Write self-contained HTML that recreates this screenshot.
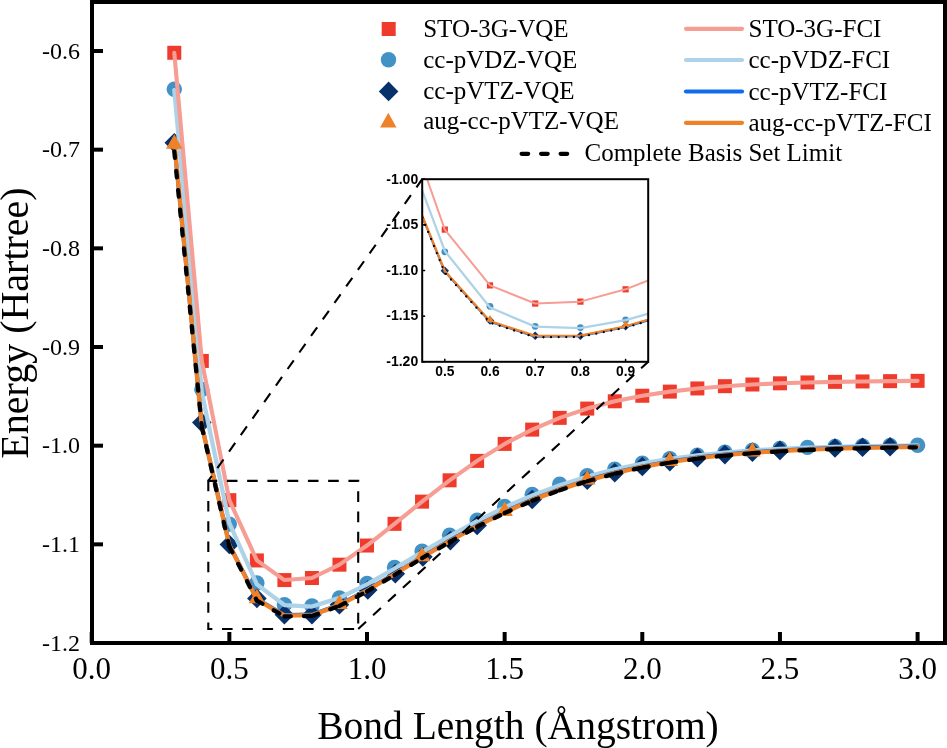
<!DOCTYPE html><html><head><meta charset="utf-8"><style>html,body{margin:0;padding:0;background:#fff;width:947px;height:748px;overflow:hidden}svg{display:block;will-change:transform}</style></head><body>
<svg width="947" height="748" viewBox="0 0 947 748">
<rect x="0" y="0" width="947" height="748" fill="#fff"/>
<defs><clipPath id="cm"><rect x="92" y="2" width="853" height="641"/></clipPath><clipPath id="ci"><rect x="422.2" y="179.2" width="226" height="182.6"/></clipPath></defs>
<g clip-path="url(#cm)">
<rect x="167.29" y="45.78" width="14" height="14" fill="#ef3b2c"/>
<rect x="194.82" y="353.92" width="14" height="14" fill="#ef3b2c"/>
<rect x="222.35" y="493.15" width="14" height="14" fill="#ef3b2c"/>
<rect x="249.88" y="553.43" width="14" height="14" fill="#ef3b2c"/>
<rect x="277.41" y="573.07" width="14" height="14" fill="#ef3b2c"/>
<rect x="304.94" y="571.00" width="14" height="14" fill="#ef3b2c"/>
<rect x="332.47" y="557.68" width="14" height="14" fill="#ef3b2c"/>
<rect x="360.00" y="538.53" width="14" height="14" fill="#ef3b2c"/>
<rect x="387.53" y="516.83" width="14" height="14" fill="#ef3b2c"/>
<rect x="415.06" y="494.63" width="14" height="14" fill="#ef3b2c"/>
<rect x="442.59" y="473.31" width="14" height="14" fill="#ef3b2c"/>
<rect x="470.12" y="453.88" width="14" height="14" fill="#ef3b2c"/>
<rect x="497.65" y="436.90" width="14" height="14" fill="#ef3b2c"/>
<rect x="525.18" y="422.60" width="14" height="14" fill="#ef3b2c"/>
<rect x="552.71" y="410.86" width="14" height="14" fill="#ef3b2c"/>
<rect x="580.24" y="401.58" width="14" height="14" fill="#ef3b2c"/>
<rect x="607.77" y="394.28" width="14" height="14" fill="#ef3b2c"/>
<rect x="635.30" y="388.75" width="14" height="14" fill="#ef3b2c"/>
<rect x="662.83" y="384.61" width="14" height="14" fill="#ef3b2c"/>
<rect x="690.36" y="381.45" width="14" height="14" fill="#ef3b2c"/>
<rect x="717.89" y="379.18" width="14" height="14" fill="#ef3b2c"/>
<rect x="745.42" y="377.50" width="14" height="14" fill="#ef3b2c"/>
<rect x="772.95" y="376.32" width="14" height="14" fill="#ef3b2c"/>
<rect x="800.48" y="375.43" width="14" height="14" fill="#ef3b2c"/>
<rect x="828.01" y="374.84" width="14" height="14" fill="#ef3b2c"/>
<rect x="855.54" y="374.45" width="14" height="14" fill="#ef3b2c"/>
<rect x="883.07" y="374.15" width="14" height="14" fill="#ef3b2c"/>
<rect x="910.60" y="373.85" width="14" height="14" fill="#ef3b2c"/>
<circle cx="174.29" cy="89.19" r="7.7" fill="#4292c6"/>
<circle cx="201.82" cy="389.54" r="7.7" fill="#4292c6"/>
<circle cx="229.35" cy="524.12" r="7.7" fill="#4292c6"/>
<circle cx="256.88" cy="583.03" r="7.7" fill="#4292c6"/>
<circle cx="284.41" cy="604.64" r="7.7" fill="#4292c6"/>
<circle cx="311.94" cy="606.02" r="7.7" fill="#4292c6"/>
<circle cx="339.47" cy="597.83" r="7.7" fill="#4292c6"/>
<circle cx="367.00" cy="583.36" r="7.7" fill="#4292c6"/>
<circle cx="394.53" cy="567.52" r="7.7" fill="#4292c6"/>
<circle cx="422.06" cy="551.12" r="7.7" fill="#4292c6"/>
<circle cx="449.59" cy="535.15" r="7.7" fill="#4292c6"/>
<circle cx="477.12" cy="520.08" r="7.7" fill="#4292c6"/>
<circle cx="504.65" cy="506.41" r="7.7" fill="#4292c6"/>
<circle cx="532.18" cy="494.49" r="7.7" fill="#4292c6"/>
<circle cx="559.71" cy="484.30" r="7.7" fill="#4292c6"/>
<circle cx="587.24" cy="475.68" r="7.7" fill="#4292c6"/>
<circle cx="614.77" cy="469.16" r="7.7" fill="#4292c6"/>
<circle cx="642.30" cy="463.20" r="7.7" fill="#4292c6"/>
<circle cx="669.83" cy="458.63" r="7.7" fill="#4292c6"/>
<circle cx="697.36" cy="455.09" r="7.7" fill="#4292c6"/>
<circle cx="724.89" cy="452.31" r="7.7" fill="#4292c6"/>
<circle cx="752.42" cy="450.13" r="7.7" fill="#4292c6"/>
<circle cx="779.95" cy="448.51" r="7.7" fill="#4292c6"/>
<circle cx="807.48" cy="447.34" r="7.7" fill="#4292c6"/>
<circle cx="835.01" cy="446.52" r="7.7" fill="#4292c6"/>
<circle cx="862.54" cy="445.96" r="7.7" fill="#4292c6"/>
<circle cx="890.07" cy="445.50" r="7.7" fill="#4292c6"/>
<circle cx="917.60" cy="445.19" r="7.7" fill="#4292c6"/>
<path d="M174.29,132.96L184.09,142.76L174.29,152.56L164.49,142.76Z" fill="#08306a"/>
<path d="M201.82,412.79L211.62,422.59L201.82,432.39L192.02,422.59Z" fill="#08306a"/>
<path d="M229.35,534.75L239.15,544.55L229.35,554.35L219.55,544.55Z" fill="#08306a"/>
<path d="M256.88,588.62L266.68,598.42L256.88,608.22L247.08,598.42Z" fill="#08306a"/>
<path d="M284.41,605.00L294.21,614.80L284.41,624.60L274.61,614.80Z" fill="#08306a"/>
<path d="M311.94,605.00L321.74,614.80L311.94,624.60L302.14,614.80Z" fill="#08306a"/>
<path d="M339.47,594.84L349.27,604.64L339.47,614.44L329.67,604.64Z" fill="#08306a"/>
<path d="M367.80,580.26L377.60,590.06L367.80,599.86L358.00,590.06Z" fill="#08306a"/>
<path d="M395.33,563.84L405.13,573.64L395.33,583.44L385.53,573.64Z" fill="#08306a"/>
<path d="M422.86,547.04L432.66,556.84L422.86,566.64L413.06,556.84Z" fill="#08306a"/>
<path d="M450.39,530.78L460.19,540.58L450.39,550.38L440.59,540.58Z" fill="#08306a"/>
<path d="M477.12,515.61L486.92,525.41L477.12,535.21L467.32,525.41Z" fill="#08306a"/>
<path d="M532.18,489.63L541.98,499.43L532.18,509.23L522.38,499.43Z" fill="#08306a"/>
<path d="M587.24,470.42L597.04,480.22L587.24,490.02L577.44,480.22Z" fill="#08306a"/>
<path d="M614.77,462.91L624.57,472.71L614.77,482.51L604.97,472.71Z" fill="#08306a"/>
<path d="M642.30,456.75L652.10,466.55L642.30,476.35L632.50,466.55Z" fill="#08306a"/>
<path d="M669.83,451.79L679.63,461.59L669.83,471.39L660.03,461.59Z" fill="#08306a"/>
<path d="M697.36,447.86L707.16,457.66L697.36,467.46L687.56,457.66Z" fill="#08306a"/>
<path d="M724.89,444.78L734.69,454.58L724.89,464.38L715.09,454.58Z" fill="#08306a"/>
<path d="M752.42,442.40L762.22,452.20L752.42,462.00L742.62,452.20Z" fill="#08306a"/>
<path d="M779.95,440.59L789.75,450.39L779.95,460.19L770.15,450.39Z" fill="#08306a"/>
<path d="M835.01,438.20L844.81,448.00L835.01,457.80L825.21,448.00Z" fill="#08306a"/>
<path d="M862.54,437.44L872.34,447.24L862.54,457.04L852.74,447.24Z" fill="#08306a"/>
<path d="M890.07,436.88L899.87,446.68L890.07,456.48L880.27,446.68Z" fill="#08306a"/>
<polyline points="174.29,90.17 201.82,392.50 229.35,523.23 256.88,584.38 284.41,605.03 311.94,606.57 339.47,597.92 367.00,584.34 394.53,568.51 422.06,552.11 449.59,536.14 477.12,521.06 504.65,507.39 532.18,495.48 559.71,485.28 587.24,476.67 614.77,469.45 642.30,463.49 669.83,458.93 697.36,455.39 724.89,452.61 752.42,450.43 779.95,448.81 807.48,447.64 835.01,446.81 862.54,446.25 890.07,445.80 917.60,445.48" stroke="#aed3e8" stroke-width="4.3" fill="none" stroke-linejoin="round" stroke-linecap="round"/>
<polyline points="174.29,143.75 201.82,425.35 229.35,544.74 256.88,598.98 284.41,615.00 311.94,614.56 339.47,604.53 367.00,590.06 394.53,573.64 422.06,556.84 449.59,540.58 477.12,525.50 504.65,511.73 532.18,499.53 559.71,489.03 587.24,480.03 614.77,472.51 642.30,466.35 669.83,461.49 697.36,457.56 724.89,454.48 752.42,452.11 779.95,450.39 807.48,449.02 835.01,448.00 862.54,447.24 890.07,446.68 917.60,446.27" stroke="#106cec" stroke-width="4.0" fill="none" stroke-linejoin="round" stroke-linecap="round"/>
<polyline points="174.29,52.78 201.82,360.92 229.35,500.15 256.88,560.43 284.41,580.07 311.94,578.00 339.47,564.68 367.00,545.53 394.53,523.83 422.06,501.63 449.59,480.31 477.12,460.88 504.65,443.90 532.18,429.60 559.71,417.86 587.24,408.58 614.77,401.28 642.30,395.75 669.83,391.61 697.36,388.45 724.89,386.18 752.42,384.50 779.95,383.32 807.48,382.43 835.01,381.84 862.54,381.45 890.07,381.15 917.60,380.85" stroke="#f69d94" stroke-width="4.1" fill="none" stroke-linejoin="round" stroke-linecap="round"/>
<path d="M174.29,134.13L182.54,148.63L166.04,148.63Z" fill="#ef8229"/>
<path d="M256.88,588.87L265.13,603.37L248.63,603.37Z" fill="#ef8229"/>
<path d="M339.47,594.42L347.72,608.92L331.22,608.92Z" fill="#ef8229"/>
<path d="M422.06,546.73L430.31,561.23L413.81,561.23Z" fill="#ef8229"/>
<path d="M504.65,501.62L512.90,516.12L496.40,516.12Z" fill="#ef8229"/>
<path d="M587.24,469.91L595.49,484.41L578.99,484.41Z" fill="#ef8229"/>
<path d="M669.83,451.38L678.08,465.88L661.58,465.88Z" fill="#ef8229"/>
<path d="M752.42,441.99L760.67,456.49L744.17,456.49Z" fill="#ef8229"/>
<polyline points="174.29,142.37 201.82,425.95 229.35,545.34 256.88,599.58 284.41,615.59 311.94,615.15 339.47,605.12 367.00,590.66 394.53,574.23 422.06,557.43 449.59,541.17 477.12,526.10 504.65,512.33 532.18,500.12 559.71,489.62 587.24,480.62 614.77,473.10 642.30,466.94 669.83,462.08 697.36,458.15 724.89,455.08 752.42,452.70 779.95,450.98 807.48,449.61 835.01,448.59 862.54,447.83 890.07,447.28 917.60,446.87" stroke="#ef8228" stroke-width="4.3" fill="none" stroke-linejoin="round" stroke-linecap="round"/>
<path d="M174.29,151.45L201.82,426.93" stroke="#000" stroke-width="4.3" stroke-dasharray="6.4 13.1" fill="none" stroke-linejoin="round" stroke-linecap="round"/>
<path d="M201.82,426.93L229.35,546.52" stroke="#000" stroke-width="4.3" stroke-dasharray="6.4 13.1" fill="none" stroke-linejoin="round" stroke-linecap="round"/>
<path d="M229.35,546.52L256.88,600.56" stroke="#000" stroke-width="4.3" stroke-dasharray="6.4 13.1" fill="none" stroke-linejoin="round" stroke-linecap="round"/>
<path d="M256.88,600.56L284.41,616.38" stroke="#000" stroke-width="4.3" stroke-dasharray="6.4 13.1" fill="none" stroke-linejoin="round" stroke-linecap="round"/>
<path d="M284.41,616.38L311.94,615.94" stroke="#000" stroke-width="4.3" stroke-dasharray="6.4 13.1" fill="none" stroke-linejoin="round" stroke-linecap="round"/>
<path d="M311.94,615.94L339.47,605.91" stroke="#000" stroke-width="4.3" stroke-dasharray="6.4 13.1" fill="none" stroke-linejoin="round" stroke-linecap="round"/>
<path d="M339.47,605.91L367.00,591.45" stroke="#000" stroke-width="4.3" stroke-dasharray="6.4 13.1" fill="none" stroke-linejoin="round" stroke-linecap="round"/>
<path d="M367.00,591.45L394.53,575.02" stroke="#000" stroke-width="4.3" stroke-dasharray="6.4 13.1" fill="none" stroke-linejoin="round" stroke-linecap="round"/>
<path d="M394.53,575.02L422.06,558.22" stroke="#000" stroke-width="4.3" stroke-dasharray="6.4 13.1" fill="none" stroke-linejoin="round" stroke-linecap="round"/>
<path d="M422.06,558.22L449.59,541.96" stroke="#000" stroke-width="4.3" stroke-dasharray="6.4 13.1" fill="none" stroke-linejoin="round" stroke-linecap="round"/>
<path d="M449.59,541.96L477.12,526.79" stroke="#000" stroke-width="4.3" stroke-dasharray="6.4 13.1" fill="none" stroke-linejoin="round" stroke-linecap="round"/>
<path d="M477.12,526.79L504.65,513.02" stroke="#000" stroke-width="4.3" stroke-dasharray="6.4 13.1" fill="none" stroke-linejoin="round" stroke-linecap="round"/>
<path d="M504.65,513.02L532.18,500.81" stroke="#000" stroke-width="4.3" stroke-dasharray="6.4 13.1" fill="none" stroke-linejoin="round" stroke-linecap="round"/>
<path d="M532.18,500.81L559.71,490.22" stroke="#000" stroke-width="4.3" stroke-dasharray="6.4 13.1" fill="none" stroke-linejoin="round" stroke-linecap="round"/>
<path d="M559.71,490.22L587.24,481.21" stroke="#000" stroke-width="4.3" stroke-dasharray="6.4 13.1" fill="none" stroke-linejoin="round" stroke-linecap="round"/>
<path d="M587.24,481.21L614.77,473.69" stroke="#000" stroke-width="4.3" stroke-dasharray="6.4 13.1" fill="none" stroke-linejoin="round" stroke-linecap="round"/>
<path d="M614.77,473.69L642.30,467.54" stroke="#000" stroke-width="4.3" stroke-dasharray="6.4 13.1" fill="none" stroke-linejoin="round" stroke-linecap="round"/>
<path d="M642.30,467.54L669.83,462.58" stroke="#000" stroke-width="4.3" stroke-dasharray="6.4 13.1" fill="none" stroke-linejoin="round" stroke-linecap="round"/>
<path d="M669.83,462.58L697.36,458.64" stroke="#000" stroke-width="4.3" stroke-dasharray="6.4 13.1" fill="none" stroke-linejoin="round" stroke-linecap="round"/>
<path d="M697.36,458.64L724.89,455.57" stroke="#000" stroke-width="4.3" stroke-dasharray="6.4 13.1" fill="none" stroke-linejoin="round" stroke-linecap="round"/>
<path d="M724.89,455.57L752.42,453.19" stroke="#000" stroke-width="4.3" stroke-dasharray="6.4 13.1" fill="none" stroke-linejoin="round" stroke-linecap="round"/>
<path d="M752.42,453.19L779.95,451.37" stroke="#000" stroke-width="4.3" stroke-dasharray="6.4 13.1" fill="none" stroke-linejoin="round" stroke-linecap="round"/>
<path d="M779.95,451.37L807.48,450.00" stroke="#000" stroke-width="4.3" stroke-dasharray="6.4 13.1" fill="none" stroke-linejoin="round" stroke-linecap="round"/>
<path d="M807.48,450.00L835.01,448.98" stroke="#000" stroke-width="4.3" stroke-dasharray="6.4 13.1" fill="none" stroke-linejoin="round" stroke-linecap="round"/>
<path d="M835.01,448.98L862.54,448.23" stroke="#000" stroke-width="4.3" stroke-dasharray="6.4 13.1" fill="none" stroke-linejoin="round" stroke-linecap="round"/>
<path d="M862.54,448.23L890.07,447.67" stroke="#000" stroke-width="4.3" stroke-dasharray="6.4 13.1" fill="none" stroke-linejoin="round" stroke-linecap="round"/>
<path d="M890.07,447.67L917.60,447.26" stroke="#000" stroke-width="4.3" stroke-dasharray="6.4 13.1" fill="none" stroke-linejoin="round" stroke-linecap="round"/>
</g>
<rect x="208.3" y="480.9" width="149.9" height="148.1" fill="none" stroke="#000" stroke-width="2.1" stroke-dasharray="10.6 9.65" stroke-dashoffset="1.65"/>
<path d="M208.3,480.9L422.2,179.2" stroke="#000" stroke-width="2.1" stroke-dasharray="10.6 9.65" stroke-dashoffset="4.6" fill="none"/>
<path d="M358.2,629L648.2,361.8" stroke="#000" stroke-width="2.1" stroke-dasharray="10.6 9.65" stroke-dashoffset="0" fill="none"/>
<rect x="422.2" y="179.2" width="226" height="182.6" fill="#fff"/>
<g clip-path="url(#ci)">
<rect x="441.70" y="226.50" width="6.2" height="6.2" fill="#ef3b2c"/>
<circle cx="444.80" cy="251.78" r="3.4" fill="#4292c6"/>
<path d="M444.80,266.48L449.00,270.68L444.80,274.88L440.60,270.68Z" fill="#08306a"/>
<rect x="486.90" y="282.28" width="6.2" height="6.2" fill="#ef3b2c"/>
<circle cx="490.00" cy="306.29" r="3.4" fill="#4292c6"/>
<path d="M490.00,316.33L494.20,320.53L490.00,324.73L485.80,320.53Z" fill="#08306a"/>
<rect x="532.10" y="300.45" width="6.2" height="6.2" fill="#ef3b2c"/>
<circle cx="535.20" cy="326.28" r="3.4" fill="#4292c6"/>
<path d="M535.20,331.49L539.40,335.69L535.20,339.89L531.00,335.69Z" fill="#08306a"/>
<rect x="577.30" y="298.53" width="6.2" height="6.2" fill="#ef3b2c"/>
<circle cx="580.40" cy="327.56" r="3.4" fill="#4292c6"/>
<path d="M580.40,331.49L584.60,335.69L580.40,339.89L576.20,335.69Z" fill="#08306a"/>
<rect x="622.50" y="286.21" width="6.2" height="6.2" fill="#ef3b2c"/>
<circle cx="625.60" cy="319.98" r="3.4" fill="#4292c6"/>
<path d="M625.60,322.08L629.80,326.28L625.60,330.48L621.40,326.28Z" fill="#08306a"/>
<polyline points="354.40,-184.36 399.60,100.77 444.80,229.60 490.00,285.38 535.20,303.55 580.40,301.63 625.60,289.31 670.80,271.60 716.00,251.51 761.20,230.97 806.40,211.25 851.60,193.26 896.80,177.56 942.00,164.32 987.20,153.45 1032.40,144.87 1077.60,138.11 1122.80,133.00 1168.00,129.17 1213.20,126.25 1258.40,124.15 1303.60,122.59 1348.80,121.50 1394.00,120.68 1439.20,120.13 1484.40,119.76 1529.60,119.49 1574.80,119.22" stroke="#f69d94" stroke-width="2.0" fill="none" stroke-linejoin="round" stroke-linecap="round"/>
<polyline points="354.40,-149.75 399.60,129.99 444.80,250.96 490.00,307.54 535.20,326.65 580.40,328.07 625.60,320.07 670.80,307.50 716.00,292.85 761.20,277.68 806.40,262.90 851.60,248.95 896.80,236.30 942.00,225.28 987.20,215.85 1032.40,207.88 1077.60,201.20 1122.80,195.68 1168.00,191.46 1213.20,188.18 1258.40,185.61 1303.60,183.59 1348.80,182.09 1394.00,181.01 1439.20,180.25 1484.40,179.73 1529.60,179.31 1574.80,179.02" stroke="#aed3e8" stroke-width="2.3" fill="none" stroke-linejoin="round" stroke-linecap="round"/>
<polyline points="354.40,-99.45 399.60,161.12 444.80,271.60 490.00,321.78 535.20,336.60 580.40,336.20 625.60,326.91 670.80,313.53 716.00,298.33 761.20,282.79 806.40,267.74 851.60,253.79 896.80,241.05 942.00,229.76 987.20,220.05 1032.40,211.71 1077.60,204.76 1122.80,199.06 1168.00,194.56 1213.20,190.92 1258.40,188.08 1303.60,185.88 1348.80,184.29 1394.00,183.02 1439.20,182.07 1484.40,181.37 1529.60,180.86 1574.80,180.48" stroke="#106cec" stroke-width="2.2" fill="none" stroke-linejoin="round" stroke-linecap="round"/>
<path d="M490.00,315.11L493.70,321.71L486.30,321.71Z" fill="#ef8229"/>
<path d="M625.60,320.24L629.30,326.84L621.90,326.84Z" fill="#ef8229"/>
<polyline points="354.40,-101.91 399.60,160.48 444.80,270.96 490.00,321.15 535.20,335.96 580.40,335.56 625.60,326.27 670.80,312.89 716.00,297.69 761.20,282.15 806.40,267.10 851.60,253.15 896.80,240.41 942.00,229.12 987.20,219.41 1032.40,211.07 1077.60,204.12 1122.80,198.42 1168.00,193.92 1213.20,190.28 1258.40,187.44 1303.60,185.24 1348.80,183.65 1394.00,182.38 1439.20,181.43 1484.40,180.74 1529.60,180.22 1574.80,179.84" stroke="#ef8228" stroke-width="2.3" fill="none" stroke-linejoin="round" stroke-linecap="round"/>
<polyline points="354.40,-92.87 399.60,162.04 444.80,272.69 490.00,322.70 535.20,337.33 580.40,336.93 625.60,327.64 670.80,314.26 716.00,299.06 761.20,283.52 806.40,268.47 851.60,254.43 896.80,241.69 942.00,230.39 987.20,220.59 1032.40,212.26 1077.60,205.30 1122.80,199.61 1168.00,195.02 1213.20,191.38 1258.40,188.53 1303.60,186.33 1348.80,184.65 1394.00,183.38 1439.20,182.44 1484.40,181.74 1529.60,181.22 1574.80,180.84" stroke="#000" stroke-width="2.3" stroke-dasharray="0 7.6" fill="none" stroke-linejoin="round" stroke-linecap="round"/>
</g>
<rect x="422.2" y="179.2" width="226" height="182.6" fill="none" stroke="#000" stroke-width="2"/>
<line x1="444.80" y1="361.8" x2="444.80" y2="358.8" stroke="#000" stroke-width="1.5"/>
<text x="444.80" y="375.8" font-family="Liberation Sans" font-weight="bold" font-size="13.8" text-anchor="middle">0.5</text>
<line x1="490.00" y1="361.8" x2="490.00" y2="358.8" stroke="#000" stroke-width="1.5"/>
<text x="490.00" y="375.8" font-family="Liberation Sans" font-weight="bold" font-size="13.8" text-anchor="middle">0.6</text>
<line x1="535.20" y1="361.8" x2="535.20" y2="358.8" stroke="#000" stroke-width="1.5"/>
<text x="535.20" y="375.8" font-family="Liberation Sans" font-weight="bold" font-size="13.8" text-anchor="middle">0.7</text>
<line x1="580.40" y1="361.8" x2="580.40" y2="358.8" stroke="#000" stroke-width="1.5"/>
<text x="580.40" y="375.8" font-family="Liberation Sans" font-weight="bold" font-size="13.8" text-anchor="middle">0.8</text>
<line x1="625.60" y1="361.8" x2="625.60" y2="358.8" stroke="#000" stroke-width="1.5"/>
<text x="625.60" y="375.8" font-family="Liberation Sans" font-weight="bold" font-size="13.8" text-anchor="middle">0.9</text>
<line x1="422.2" y1="179.20" x2="425.2" y2="179.20" stroke="#000" stroke-width="1.5"/>
<text x="418.2" y="183.50" font-family="Liberation Sans" font-weight="bold" font-size="14" text-anchor="end">-1.00</text>
<line x1="422.2" y1="224.85" x2="425.2" y2="224.85" stroke="#000" stroke-width="1.5"/>
<text x="418.2" y="229.15" font-family="Liberation Sans" font-weight="bold" font-size="14" text-anchor="end">-1.05</text>
<line x1="422.2" y1="270.50" x2="425.2" y2="270.50" stroke="#000" stroke-width="1.5"/>
<text x="418.2" y="274.80" font-family="Liberation Sans" font-weight="bold" font-size="14" text-anchor="end">-1.10</text>
<line x1="422.2" y1="316.15" x2="425.2" y2="316.15" stroke="#000" stroke-width="1.5"/>
<text x="418.2" y="320.45" font-family="Liberation Sans" font-weight="bold" font-size="14" text-anchor="end">-1.15</text>
<line x1="422.2" y1="361.80" x2="425.2" y2="361.80" stroke="#000" stroke-width="1.5"/>
<text x="418.2" y="366.10" font-family="Liberation Sans" font-weight="bold" font-size="14" text-anchor="end">-1.20</text>
<rect x="92" y="2" width="853" height="641" fill="none" stroke="#000" stroke-width="4"/>
<line x1="92" y1="51.00" x2="103" y2="51.00" stroke="#000" stroke-width="4"/>
<text x="80" y="58.50" font-family="Liberation Serif" font-size="24" text-anchor="end">-0.6</text>
<line x1="92" y1="149.67" x2="103" y2="149.67" stroke="#000" stroke-width="4"/>
<text x="80" y="157.17" font-family="Liberation Serif" font-size="24" text-anchor="end">-0.7</text>
<line x1="92" y1="248.34" x2="103" y2="248.34" stroke="#000" stroke-width="4"/>
<text x="80" y="255.84" font-family="Liberation Serif" font-size="24" text-anchor="end">-0.8</text>
<line x1="92" y1="347.01" x2="103" y2="347.01" stroke="#000" stroke-width="4"/>
<text x="80" y="354.51" font-family="Liberation Serif" font-size="24" text-anchor="end">-0.9</text>
<line x1="92" y1="445.68" x2="103" y2="445.68" stroke="#000" stroke-width="4"/>
<text x="80" y="453.18" font-family="Liberation Serif" font-size="24" text-anchor="end">-1.0</text>
<line x1="92" y1="544.35" x2="103" y2="544.35" stroke="#000" stroke-width="4"/>
<text x="80" y="551.85" font-family="Liberation Serif" font-size="24" text-anchor="end">-1.1</text>
<line x1="92" y1="643.02" x2="103" y2="643.02" stroke="#000" stroke-width="4"/>
<text x="80" y="650.52" font-family="Liberation Serif" font-size="24" text-anchor="end">-1.2</text>
<line x1="91.70" y1="643" x2="91.70" y2="632" stroke="#000" stroke-width="4"/>
<text x="91.70" y="679" font-family="Liberation Serif" font-size="31" text-anchor="middle">0.0</text>
<line x1="229.35" y1="643" x2="229.35" y2="632" stroke="#000" stroke-width="4"/>
<text x="229.35" y="679" font-family="Liberation Serif" font-size="31" text-anchor="middle">0.5</text>
<line x1="367.00" y1="643" x2="367.00" y2="632" stroke="#000" stroke-width="4"/>
<text x="367.00" y="679" font-family="Liberation Serif" font-size="31" text-anchor="middle">1.0</text>
<line x1="504.65" y1="643" x2="504.65" y2="632" stroke="#000" stroke-width="4"/>
<text x="504.65" y="679" font-family="Liberation Serif" font-size="31" text-anchor="middle">1.5</text>
<line x1="642.30" y1="643" x2="642.30" y2="632" stroke="#000" stroke-width="4"/>
<text x="642.30" y="679" font-family="Liberation Serif" font-size="31" text-anchor="middle">2.0</text>
<line x1="779.95" y1="643" x2="779.95" y2="632" stroke="#000" stroke-width="4"/>
<text x="779.95" y="679" font-family="Liberation Serif" font-size="31" text-anchor="middle">2.5</text>
<line x1="917.60" y1="643" x2="917.60" y2="632" stroke="#000" stroke-width="4"/>
<text x="917.60" y="679" font-family="Liberation Serif" font-size="31" text-anchor="middle">3.0</text>
<text x="518" y="739" font-family="Liberation Serif" font-size="39.5" text-anchor="middle">Bond Length (Ångstrom)</text>
<text transform="translate(28.3,323) rotate(-90)" x="0" y="0" font-family="Liberation Serif" font-size="40" text-anchor="middle">Energy (Hartree)</text>
<rect x="381.70" y="22.00" width="14" height="14" fill="#ef3b2c"/>
<circle cx="388.50" cy="59.80" r="7.7" fill="#4292c6"/>
<path d="M388.60,81.60L398.40,91.40L388.60,101.20L378.80,91.40Z" fill="#08306a"/>
<path d="M388.30,112.70L396.55,127.50L380.05,127.50Z" fill="#ef8229"/>
<text x="423.2" y="37.00" font-family="Liberation Serif" font-size="25">STO-3G-VQE</text>
<text x="423.2" y="67.80" font-family="Liberation Serif" font-size="25">cc-pVDZ-VQE</text>
<text x="423.2" y="99.00" font-family="Liberation Serif" font-size="25">cc-pVTZ-VQE</text>
<text x="423.2" y="129.00" font-family="Liberation Serif" font-size="25">aug-cc-pVTZ-VQE</text>
<line x1="686" y1="28.8" x2="742" y2="28.8" stroke="#f69d94" stroke-width="4.2" stroke-linecap="round"/>
<text x="748.5" y="36.80" font-family="Liberation Serif" font-size="25">STO-3G-FCI</text>
<line x1="686" y1="60.0" x2="742" y2="60.0" stroke="#aed3e8" stroke-width="4.2" stroke-linecap="round"/>
<text x="748.5" y="68.00" font-family="Liberation Serif" font-size="25">cc-pVDZ-FCI</text>
<line x1="686" y1="91.5" x2="742" y2="91.5" stroke="#106cec" stroke-width="4.2" stroke-linecap="round"/>
<text x="748.5" y="99.50" font-family="Liberation Serif" font-size="25">cc-pVTZ-FCI</text>
<line x1="686" y1="122.8" x2="742" y2="122.8" stroke="#ef8228" stroke-width="4.2" stroke-linecap="round"/>
<text x="748.5" y="130.80" font-family="Liberation Serif" font-size="25">aug-cc-pVTZ-FCI</text>
<path d="M521.6,153.8L568,153.8" stroke="#000" stroke-width="4.2" stroke-dasharray="6.6 12.9" stroke-linecap="round" fill="none"/>
<text x="584.5" y="161.4" font-family="Liberation Serif" font-size="25">Complete Basis Set Limit</text>
</svg></body></html>
